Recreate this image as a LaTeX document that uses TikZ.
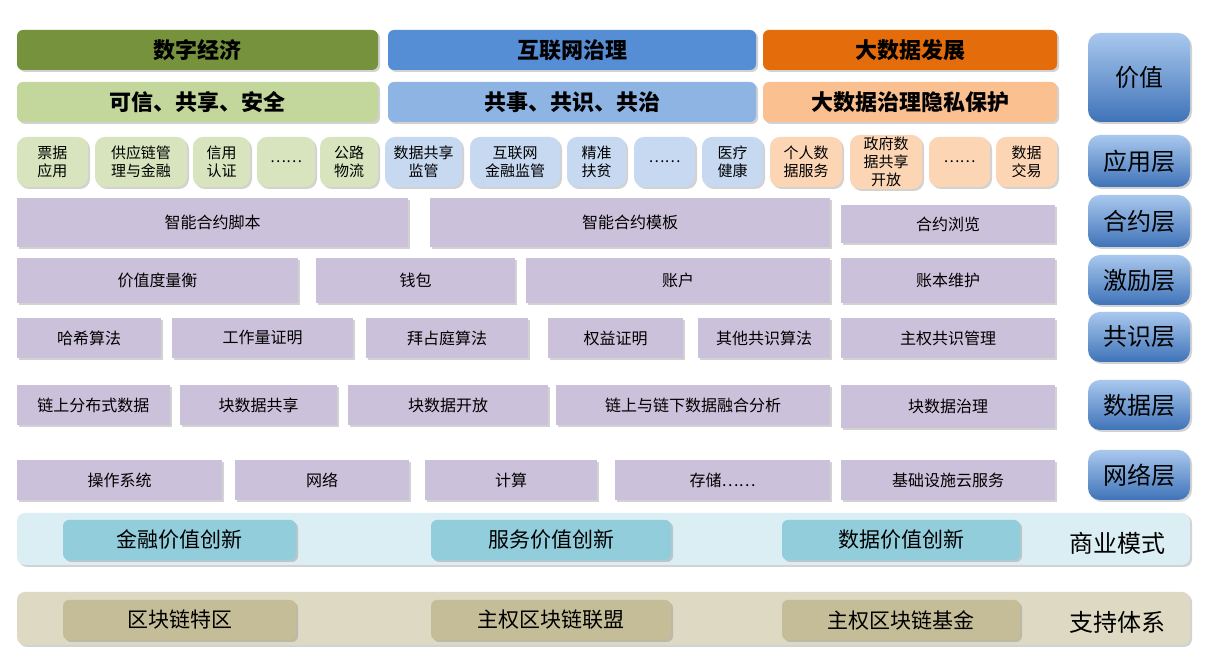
\documentclass[tikz,border=0pt]{standalone}
\usepackage{fontspec}
\setmainfont{Noto Sans CJK SC}
\usetikzlibrary{shadows}
\definecolor{gD}{HTML}{76923C}\definecolor{bD}{HTML}{558ED5}\definecolor{oD}{HTML}{E46C0A}
\definecolor{gM}{HTML}{C3D69B}\definecolor{bM}{HTML}{8EB4E3}\definecolor{oM}{HTML}{FAC090}
\definecolor{gL}{HTML}{D7E4BD}\definecolor{bL}{HTML}{C6D9F1}\definecolor{oL}{HTML}{FCD5B5}
\definecolor{pu}{HTML}{CCC1DA}\definecolor{cyL}{HTML}{DAEEF3}\definecolor{cyM}{HTML}{92CDDC}
\definecolor{tnL}{HTML}{DDD9C3}\definecolor{tnM}{HTML}{C4BD97}
\definecolor{sT}{HTML}{A9C8EE}\definecolor{sB}{HTML}{3F73B8}
\tikzset{
 bx/.style={draw=none,rounded corners=3pt,inner sep=1pt,align=center,drop shadow={opacity=0.35,shadow xshift=1pt,shadow yshift=-1pt}},
 hd/.style={bx,font=\fontsize{11}{13}\selectfont\bfseries},
 ap/.style={bx,rounded corners=5pt,font=\fontsize{7.5}{9}\selectfont},
 pb/.style={bx,fill=pu,rounded corners=0pt,font=\fontsize{8}{10}\selectfont},
 sd/.style={bx,rounded corners=6pt,top color=sT,bottom color=sB,font=\fontsize{12}{14}\selectfont},
 inbox/.style={bx,rounded corners=3pt,font=\fontsize{10.5}{12}\selectfont},
}
\newcommand{\bxx}[7]{\pgfmathsetmacro{\ww}{(#4-#2)*0.5}\pgfmathsetmacro{\hh}{(#5-#3)*0.5}%
 \node[#6,minimum width=\ww pt,minimum height=\hh pt] (#1) at ({(#2+#4)/2},{(#3+#5)/2}) {#7};}
\begin{document}
\begin{tikzpicture}[x=0.5pt,y=-0.5pt]
\useasboundingbox (0,0) rectangle (1217,672);
\fill[white] (0,0) rectangle (1217,672);
\bxx{h1}{17}{30}{378}{70}{hd,fill=gD}{数字经济}
\bxx{h2}{388}{30}{756}{70}{hd,fill=bD}{互联网治理}
\bxx{h3}{763}{30}{1057}{70}{hd,fill=oD}{大数据发展}
\bxx{m1}{17}{82}{378}{122}{hd,fill=gM}{可信、共享、安全}
\bxx{m2}{388}{82}{756}{122}{hd,fill=bM}{共事、共识、共治}
\bxx{m3}{763}{82}{1057}{122}{hd,fill=oM}{大数据治理隐私保护}
\bxx{s0}{1088}{33}{1190}{122}{sd}{价值}
% app
\bxx{a1}{17}{137}{88}{187}{ap,fill=gL}{票据\\应用}
\bxx{a2}{95}{137}{187}{187}{ap,fill=gL}{供应链管\\理与金融}
\bxx{a3}{193}{137}{250}{187}{ap,fill=gL}{信用\\认证}
\bxx{a4}{257}{137}{315}{187}{ap,fill=gL}{……}
\bxx{a5}{320}{137}{378}{187}{ap,fill=gL}{公路\\物流}
\bxx{a6}{385}{137}{462}{187}{ap,fill=bL}{数据共享\\监管}
\bxx{a7}{470}{137}{560}{187}{ap,fill=bL}{互联网\\金融监管}
\bxx{a8}{567}{137}{626}{187}{ap,fill=bL}{精准\\扶贫}
\bxx{a9}{634}{137}{695}{187}{ap,fill=bL}{……}
\bxx{a10}{702}{137}{763}{187}{ap,fill=bL}{医疗\\健康}
\bxx{a11}{770}{137}{842}{187}{ap,fill=oL}{个人数\\据服务}
\bxx{a12}{850}{137}{922}{187}{ap,fill=oL}{政府数\\据共享\\开放}
\bxx{a13}{929}{137}{990}{187}{ap,fill=oL}{……}
\bxx{a14}{996}{137}{1057}{187}{ap,fill=oL}{数据\\交易}
\bxx{s1}{1088}{135}{1190}{187}{sd}{应用层}
% contract
\bxx{c1}{17}{198}{408}{247}{pb}{智能合约脚本}
\bxx{c2}{430}{198}{830}{247}{pb}{智能合约模板}
\bxx{c3}{841}{205}{1055}{243}{pb}{合约浏览}
\bxx{s2}{1088}{195}{1190}{247}{sd}{合约层}
% incentive
\bxx{i1}{17}{258}{298}{303}{pb}{价值度量衡}
\bxx{i2}{316}{258}{515}{303}{pb}{钱包}
\bxx{i3}{526}{258}{830}{303}{pb}{账户}
\bxx{i4}{841}{258}{1055}{303}{pb}{账本维护}
\bxx{s3}{1088}{255}{1190}{305}{sd}{激励层}
% consensus
\bxx{k1}{17}{318}{161}{358}{pb}{哈希算法}
\bxx{k2}{172}{318}{353}{358}{pb}{工作量证明}
\bxx{k3}{366}{318}{528}{358}{pb}{拜占庭算法}
\bxx{k4}{548}{318}{683}{358}{pb}{权益证明}
\bxx{k5}{698}{318}{830}{358}{pb}{其他共识算法}
\bxx{k6}{841}{318}{1055}{358}{pb}{主权共识管理}
\bxx{s4}{1088}{312}{1190}{362}{sd}{共识层}
% data
\bxx{d1}{17}{385}{170}{425}{pb}{链上分布式数据}
\bxx{d2}{180}{385}{337}{425}{pb}{块数据共享}
\bxx{d3}{348}{385}{548}{425}{pb}{块数据开放}
\bxx{d4}{556}{385}{830}{425}{pb}{链上与链下数据融合分析}
\bxx{d5}{841}{385}{1055}{428}{pb}{块数据治理}
\bxx{s5}{1088}{380}{1190}{430}{sd}{数据层}
% network
\bxx{n1}{17}{460}{222}{500}{pb}{操作系统}
\bxx{n2}{235}{460}{409}{500}{pb}{网络}
\bxx{n3}{425}{460}{597}{500}{pb}{计算}
\bxx{n4}{615}{460}{830}{500}{pb}{存储……}
\bxx{n5}{841}{460}{1055}{500}{pb}{基础设施云服务}
\bxx{s6}{1088}{450}{1190}{500}{sd}{网络层}
% business
\bxx{bb}{17}{513}{1190}{565}{bx,fill=cyL,rounded corners=4pt}{}
\bxx{b1}{63}{520}{296}{560}{inbox,fill=cyM}{金融价值创新}
\bxx{b2}{431}{520}{671}{560}{inbox,fill=cyM}{服务价值创新}
\bxx{b3}{782}{520}{1020}{560}{inbox,fill=cyM}{数据价值创新}
\node[font=\fontsize{12}{14}\selectfont] (bt) at (1117,543) {商业模式};
% support
\bxx{tt}{17}{592}{1190}{645}{bx,fill=tnL,rounded corners=4pt}{}
\bxx{t1}{63}{600}{296}{640}{inbox,fill=tnM}{区块链特区}
\bxx{t2}{431}{600}{671}{640}{inbox,fill=tnM}{主权区块链联盟}
\bxx{t3}{782}{600}{1020}{640}{inbox,fill=tnM}{主权区块链基金}
\node[font=\fontsize{12}{14}\selectfont] (tx) at (1117,622) {支持体系};
\end{tikzpicture}
\end{document}
